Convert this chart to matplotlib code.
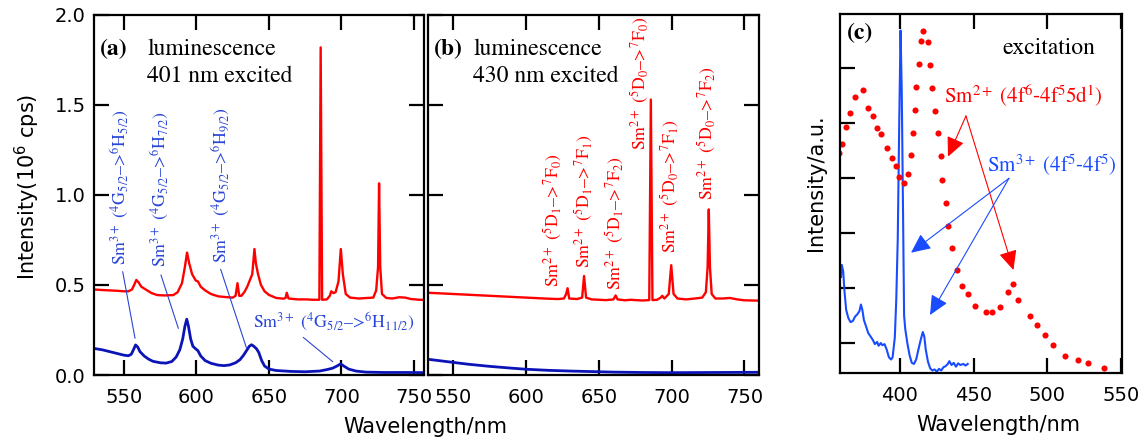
import numpy as np
import matplotlib.pyplot as plt

plt.rcParams['font.family'] = 'DejaVu Sans'
plt.rcParams['mathtext.fontset'] = 'dejavusans'

# (a) luminescence, 401 nm excitation
wl_a_red = [529.5, 535, 540, 545, 550, 553, 555.5, 557, 558.5, 560, 562, 565, 569, 573, 578, 584,
            587, 590, 592, 593.5, 595, 597, 599.5, 601, 603, 606, 610, 615, 620, 625, 627, 628.3,
            629.5, 631, 633, 635, 637, 638.5, 640, 641, 642.5, 644.5, 647, 650, 655, 660, 661.5,
            662.3, 663.5, 670, 676, 680, 684.8, 685.7, 686.7, 690, 692, 693, 694.5, 696, 698, 699.6,
            701, 703, 706, 712, 718, 722, 724, 725.3, 726, 726.8, 728, 731, 735, 740, 744, 748, 754, 760]
int_a_red = [0.475, 0.472, 0.47, 0.468, 0.465, 0.465, 0.475, 0.50, 0.528, 0.515, 0.49, 0.475, 0.455,
             0.444, 0.442, 0.444, 0.46, 0.51, 0.60, 0.68, 0.62, 0.56, 0.525, 0.52, 0.49, 0.47, 0.45,
             0.437, 0.433, 0.43, 0.44, 0.51, 0.44, 0.44, 0.46, 0.49, 0.53, 0.56, 0.70, 0.62, 0.56,
             0.50, 0.465, 0.445, 0.428, 0.424, 0.428, 0.457, 0.425, 0.42, 0.42, 0.418, 0.418, 1.82,
             0.418, 0.42, 0.44, 0.465, 0.455, 0.46, 0.52, 0.70, 0.56, 0.45, 0.43, 0.425, 0.428, 0.43,
             0.47, 0.60, 1.065, 0.60, 0.45, 0.428, 0.425, 0.432, 0.43, 0.422, 0.418, 0.417]
wl_a_blue = [529, 535, 540, 545, 550, 553, 555, 556.5, 558, 559.5, 561, 564, 567, 570, 575, 579, 583,
             586, 588.5, 590.5, 592, 593.3, 594.5, 596, 597.5, 599.5, 601, 603, 606, 610, 615, 619,
             623, 627, 630, 632.5, 634.5, 636.5, 638, 639.5, 641.5, 643, 645, 647, 650, 655, 665, 675,
             685, 690, 694, 697, 699.5, 702, 705, 710, 717, 730, 745, 760]
int_a_blue = [0.148, 0.14, 0.13, 0.12, 0.11, 0.107, 0.115, 0.14, 0.167, 0.155, 0.13, 0.105, 0.088,
              0.076, 0.068, 0.066, 0.075, 0.1, 0.14, 0.2, 0.27, 0.31, 0.27, 0.2, 0.16, 0.145, 0.135,
              0.105, 0.08, 0.065, 0.055, 0.052, 0.056, 0.068, 0.085, 0.11, 0.135, 0.16, 0.168, 0.16,
              0.145, 0.125, 0.08, 0.05, 0.033, 0.025, 0.02, 0.018, 0.022, 0.03, 0.038, 0.05, 0.062,
              0.048, 0.033, 0.022, 0.016, 0.014, 0.014, 0.013]

# (b) luminescence, 430 nm excitation
wl_b_red = [530, 545, 560, 575, 590, 605, 615, 622, 626, 627.5, 628.5, 629.6, 635, 638.5, 639.8,
            641.2, 645, 650, 655, 660, 661.5, 662.8, 668, 672, 675, 680, 684.6, 685.7, 686.8, 690,
            692.5, 693.5, 695, 698, 699.7, 701.3, 704, 710, 716, 721, 723.5, 724.7, 725.5, 726.3,
            727.5, 730, 735, 740, 745, 750, 760]
int_b_red = [0.458, 0.452, 0.446, 0.44, 0.434, 0.428, 0.424, 0.422, 0.425, 0.45, 0.482, 0.425,
             0.422, 0.43, 0.55, 0.43, 0.42, 0.418, 0.416, 0.42, 0.442, 0.42, 0.415, 0.418, 0.416,
             0.414, 0.416, 1.53, 0.416, 0.418, 0.43, 0.44, 0.425, 0.45, 0.61, 0.45, 0.425, 0.42,
             0.425, 0.43, 0.46, 0.60, 0.92, 0.60, 0.45, 0.425, 0.425, 0.428, 0.42, 0.415, 0.413]
wl_b_blue = [530, 540, 550, 560, 575, 590, 600, 615, 630, 645, 660, 680, 700, 730, 760]
int_b_blue = [0.09, 0.08, 0.07, 0.06, 0.048, 0.038, 0.032, 0.026, 0.022, 0.019, 0.016, 0.014,
              0.013, 0.014, 0.015]

# (c) excitation spectra
wl_c_sm3 = [360, 360.5, 361.5, 362.3, 363.5, 365, 366.5, 368, 369.5, 371, 372.5, 373.5, 374.5,
            375.5, 377, 378.5, 380, 381.5, 383, 384.5, 385.5, 387, 388, 389.5, 391, 392.5, 394,
            395, 396.5, 397.5, 398.5, 399.5, 400.4, 401.2, 402, 402.8, 403.6, 405, 406.5, 408,
            409.5, 411, 412.5, 414, 415.5, 416.5, 417.5, 419, 420.5, 422, 423.5, 425, 426.5, 428,
            429.5, 431, 432.5, 433.5, 435, 436.5, 438, 439.5, 441, 443, 444.5, 446]
int_c_sm3 = [1.2, 1.42, 1.3, 0.95, 0.6, 0.45, 0.38, 0.4, 0.48, 0.52, 0.58, 0.7, 0.6, 0.42, 0.3,
             0.18, 0.12, 0.06, -0.02, 0.02, -0.05, 0.0, -0.04, -0.02, -0.12, -0.26, -0.3, -0.26,
             0.1, 0.8, 1.9, 4.0, 5.68, 4.6, 2.6, 0.5, 0.25, 0.0, -0.22, -0.36, -0.38, -0.3, -0.12,
             0.05, 0.2, 0.12, -0.12, -0.34, -0.46, -0.5, -0.48, -0.52, -0.47, -0.5, -0.44, -0.42,
             -0.38, -0.33, -0.4, -0.36, -0.43, -0.37, -0.4, -0.38, -0.41, -0.38]
wl_c_sm2 = [358.6, 360.4, 363.1, 366.0, 369.4, 375.1, 378.5, 381.5, 384.6, 386.9, 391.0, 394.4,
            397.1, 399.3, 402.7, 405.2, 407.3, 409.0, 410.2, 410.9, 412.9, 414.3, 415.8, 418.8,
            420.4, 421.9, 423.8, 425.6, 427.8, 428.7, 431.0, 432.8, 435.1, 438.5, 441.9, 446.0,
            450.9, 458.2, 462.7, 467.9, 473.1, 477.0, 480.3, 488.3, 492.8, 498.5, 504.1, 512.0,
            520.7, 527.9, 538.7]
int_c_sm2 = [3.46, 3.61, 3.92, 4.18, 4.48, 4.60, 4.27, 4.13, 3.90, 3.79, 3.54, 3.36, 3.22, 3.02,
             2.90, 3.07, 3.41, 3.82, 4.24, 4.66, 5.07, 5.49, 5.67, 5.48, 5.05, 4.64, 4.22, 3.81,
             3.39, 2.96, 2.55, 2.13, 1.72, 1.33, 1.04, 0.89, 0.67, 0.57, 0.57, 0.66, 0.93, 1.08,
             0.78, 0.49, 0.33, 0.15, -0.04, -0.23, -0.31, -0.37, -0.46]

sm3_labels_a = [r'Sm$^{3+}$ ($^4$G$_{5/2}$–>$^6$H$_{5/2}$)',
                r'Sm$^{3+}$ ($^4$G$_{5/2}$–>$^6$H$_{7/2}$)',
                r'Sm$^{3+}$ ($^4$G$_{5/2}$–>$^6$H$_{9/2}$)']
sm3_label_pos = [(547.2, 0.61), (574.8, 0.60), (616.9, 0.62)]
sm3_leaders = [((549.1, 0.574), (557.6, 0.204)), ((575.5, 0.556), (587.5, 0.259)),
               ((616.7, 0.587), (634.6, 0.148)), ((673.7, 0.209), (694.0, 0.074))]
sm2_labels_b = [r'Sm$^{2+}$ ($^5$D$_1$–>$^7$F$_0$)', r'Sm$^{2+}$ ($^5$D$_1$–>$^7$F$_1$)',
                r'Sm$^{2+}$ ($^5$D$_1$–>$^7$F$_2$)', r'Sm$^{2+}$ ($^5$D$_0$–>$^7$F$_0$)',
                r'Sm$^{2+}$ ($^5$D$_0$–>$^7$F$_1$)', r'Sm$^{2+}$ ($^5$D$_0$–>$^7$F$_2$)']
sm2_label_pos = [(618.5, 0.49), (639.5, 0.594), (660.8, 0.472), (678.4, 1.25), (699.0, 0.678),
                 (724.2, 0.972)]

RED = '#ff0000'
NAVY = '#0c14b8'
LBLUE = '#2a46d6'
CBLUE = '#1a4cff'
SERIF = 'STIXGeneral'
LABEL_FS = 12.8

fig = plt.figure(figsize=(11.48, 4.4), dpi=100)
ax_a = fig.add_axes([94 / 1148, 65 / 440, 330 / 1148, 360 / 440])
ax_b = fig.add_axes([428 / 1148, 65 / 440, 331 / 1148, 360 / 440])
ax_c = fig.add_axes([840 / 1148, 67 / 440, 282 / 1148, 359 / 440])

for ax in (ax_a, ax_b, ax_c):
    for s in ax.spines.values():
        s.set_linewidth(1.6)
    ax.tick_params(direction='in', length=11, width=1.6, labelsize=14, top=True)
    ax.tick_params(axis='x', pad=9)

ax_a.plot(wl_a_red, int_a_red, color=RED, lw=1.7)
ax_a.plot(wl_a_blue, int_a_blue, color=NAVY, lw=2.0)
ax_b.plot(wl_b_red, int_b_red, color=RED, lw=1.7)
ax_b.plot(wl_b_blue, int_b_blue, color=NAVY, lw=2.0)

for ax, lo in ((ax_a, 529.3), (ax_b, 532.6)):
    ax.set_xlim(lo, 757 if ax is ax_a else 760)
    ax.set_ylim(0, 2.0)
    ax.set_xticks([550, 600, 650, 700, 750])
    ax.set_yticks([0, 0.5, 1.0, 1.5, 2.0])
    ax.tick_params(right=True)
ax_a.tick_params(axis='y', pad=6)
ax_b.tick_params(labelleft=False)

# panel texts
for ax, tag, exc, x0, x1 in ((ax_a, '(a)', '401 nm excited', 533.4, 565.9),
                             (ax_b, '(b)', '430 nm excited', 536.3, 563.7)):
    ax.text(x0, 1.778, tag, family=SERIF, weight='bold', fontsize=17)
    ax.text(x1, 1.778, 'luminescence', family=SERIF, fontsize=17)
    ax.text(x1, 1.628, exc, family=SERIF, fontsize=17)

for lab, (x, y) in zip(sm3_labels_a, sm3_label_pos):
    ax_a.text(x, y, lab, rotation=90, ha='center', va='bottom', color=LBLUE, family=SERIF,
              fontsize=LABEL_FS, math_fontfamily='stix')
ax_a.text(639, 0.262, r'Sm$^{3+}$ ($^4$G$_{5/2}$–>$^6$H$_{11/2}$)', color=LBLUE, family=SERIF,
          fontsize=LABEL_FS, math_fontfamily='stix')
for p0, p1 in sm3_leaders:
    ax_a.annotate('', xy=p1, xytext=p0,
                  arrowprops=dict(arrowstyle='-', color=LBLUE, lw=0.8, shrinkA=0, shrinkB=0))

for lab, (x, y) in zip(sm2_labels_b, sm2_label_pos):
    ax_b.text(x, y, lab, rotation=90, ha='center', va='bottom', color=RED, family=SERIF,
              fontsize=LABEL_FS, math_fontfamily='stix')

# (c)
ax_c.plot(wl_c_sm3, int_c_sm3, color=CBLUE, lw=1.5)
ax_c.plot(wl_c_sm2, int_c_sm2, ls='none', marker='o', ms=4.4, color=RED, mec='none')
ax_c.set_xlim(359.3, 550.7)
ax_c.set_ylim(-0.545, 5.98)
ax_c.set_xticks([400, 450, 500, 550])
ax_c.set_yticks([0, 1, 2, 3, 4, 5])
ax_c.tick_params(labelleft=False, right=False)

ax_c.text(364, 5.53, '(c)', family=SERIF, weight='bold', fontsize=17)
ax_c.text(469.3, 5.25, 'excitation', family=SERIF, fontsize=17)
ax_c.text(429.9, 4.36, r'Sm$^{2+}$ (4f$^6$-4f$^5$5d$^1$)', color=RED, family=SERIF,
          fontsize=15, math_fontfamily='stix')
ax_c.text(459.0, 3.11, r'Sm$^{3+}$ (4f$^5$-4f$^5$)', color=CBLUE, family=SERIF,
          fontsize=15, math_fontfamily='stix')
head = '-|>,head_length=0.6,head_width=0.28'
for tip in ((432.6, 3.387), (477.0, 1.327)):
    ax_c.annotate('', xy=tip, xytext=(444.8, 4.127),
                  arrowprops=dict(arrowstyle=head, color=RED, lw=0.8, mutation_scale=20,
                                  shrinkA=0, shrinkB=0))
for tip in ((407.5, 1.642), (420.4, 0.509)):
    ax_c.annotate('', xy=tip, xytext=(474.0, 2.994),
                  arrowprops=dict(arrowstyle=head, color=CBLUE, lw=0.8, mutation_scale=20,
                                  shrinkA=0, shrinkB=0))

fig.text(27 / 1148, 1 - 187 / 440, 'Intensity(10$^6$ cps)', rotation=90, ha='center',
         va='center', fontsize=15)
fig.text(425 / 1148, 1 - 427 / 440, 'Wavelength/nm', ha='center', va='center', fontsize=15)
fig.text(816 / 1148, 1 - 183 / 440, 'Intensity/a.u.', rotation=90, ha='center', va='center',
         fontsize=15)
fig.text(998 / 1148, 1 - 425 / 440, 'Wavelength/nm', ha='center', va='center', fontsize=15)

fig.savefig('out.png', dpi=100)
